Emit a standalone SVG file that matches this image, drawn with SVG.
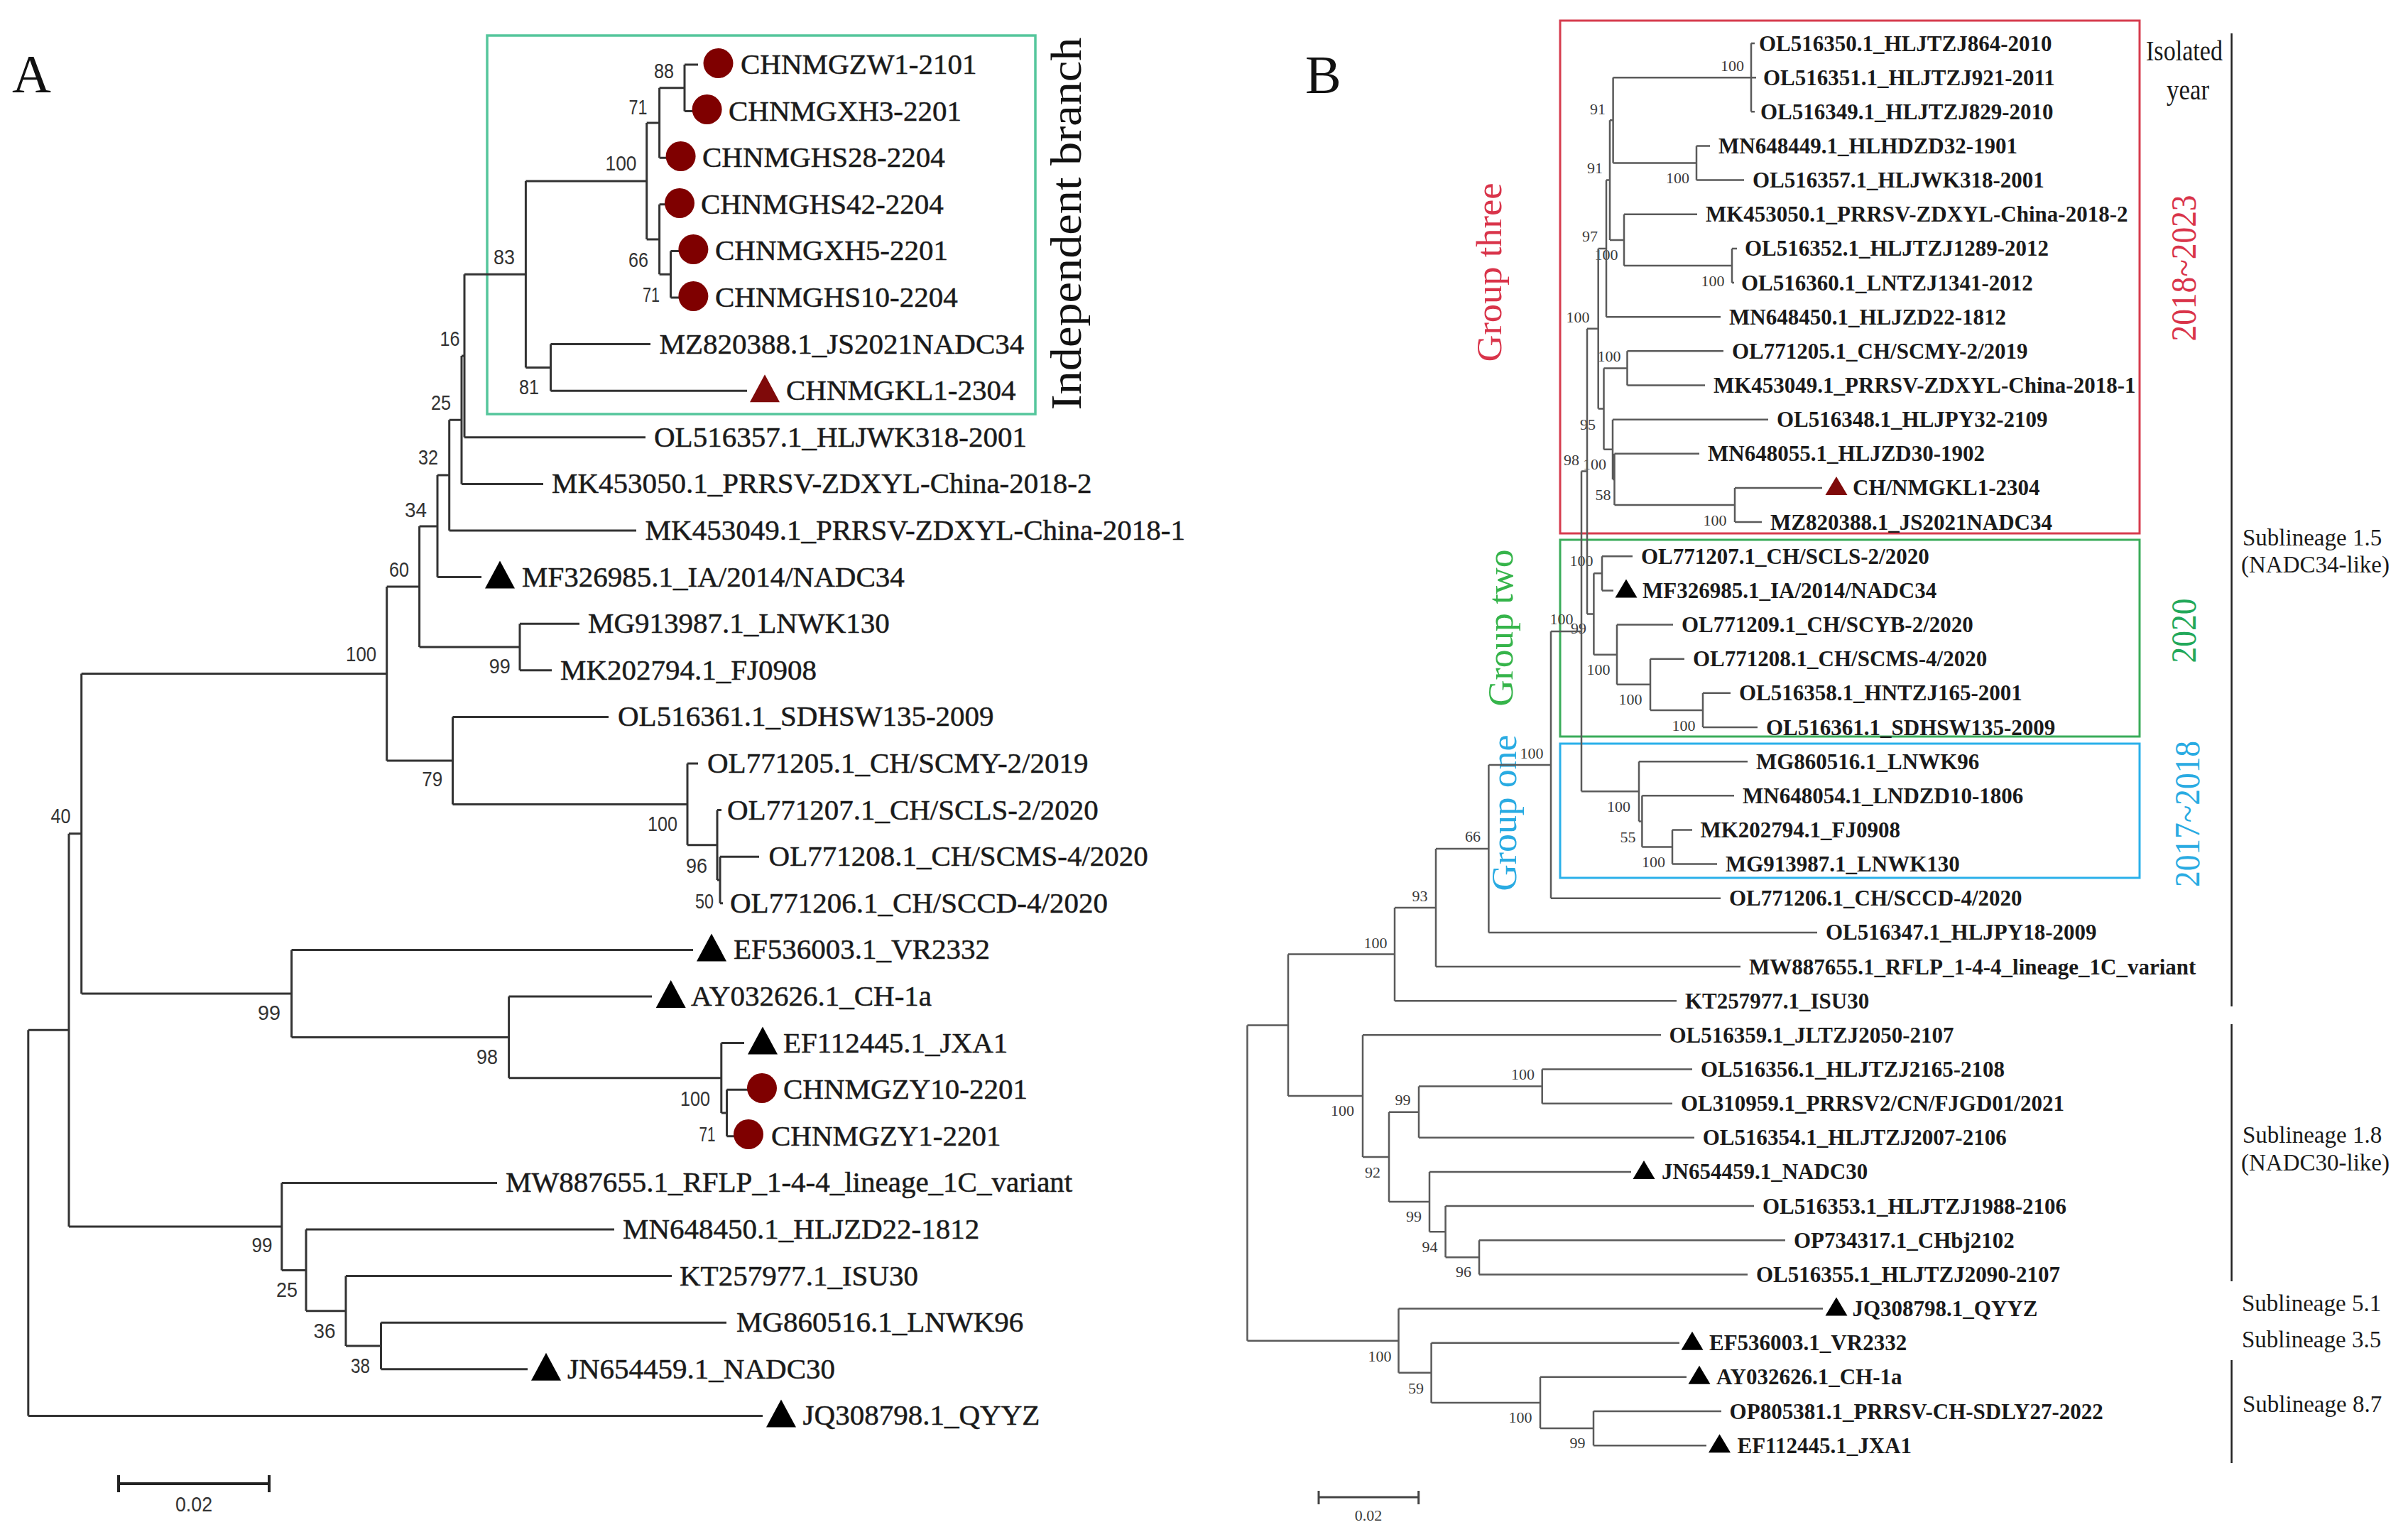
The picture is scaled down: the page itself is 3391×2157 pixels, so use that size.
<svg xmlns="http://www.w3.org/2000/svg" xmlns:xlink="http://www.w3.org/1999/xlink" width="3391" height="2157" viewBox="0 0 3391 2157">
<style>
.bg{fill:#ffffff}
.ta{font-family:"Liberation Serif","Times New Roman",serif;font-size:41px;fill:#1a1a1a;stroke:#1a1a1a;stroke-width:0.5}
.tb{font-family:"Liberation Serif","Times New Roman",serif;font-size:31px;font-weight:bold;fill:#1a1a1a}
.sa{font-family:"Liberation Sans",Arial,sans-serif;font-size:30px;fill:#333333;text-anchor:middle}
.sb{font-family:"Liberation Serif","Times New Roman",serif;font-size:22px;fill:#3a3a3a;text-anchor:middle}
.ea{fill:none;stroke:#333333;stroke-width:3}
.eb{fill:none;stroke:#5a5a5a;stroke-width:2.5}
.panel{font-family:"Liberation Serif","Times New Roman",serif;font-size:76px;fill:#111111}
.rot{font-family:"Liberation Serif","Times New Roman",serif;text-anchor:middle}
.lab{font-family:"Liberation Serif","Times New Roman",serif;font-size:33px;fill:#1a1a1a}
.dot{fill:#7f0000}
.blk{fill:#000000}
.red{fill:#7f0a0a}
.bar{stroke:#222222;stroke-width:2.5;fill:none}
</style>
<defs>
<path id="triA" d="M0,-23 L21,16 L-21,16 Z"/>
<path id="triB" d="M0,-16 L15.5,10 L-15.5,10 Z"/>
</defs>
<rect class="bg" x="0" y="0" width="3391" height="2157"/>

<!-- ================= PANEL A ================= -->
<text class="panel" x="17" y="130">A</text>
<g id="a-box-independent">
<rect x="686" y="50" width="772" height="533" fill="none" stroke="#55c69c" stroke-width="3.5"/>
<text class="rot" font-size="62" fill="#111111" textLength="525" lengthAdjust="spacingAndGlyphs" transform="translate(1522,315) rotate(-90)">Independent branch</text>
</g>

<g id="a-support">
<text class="sa" x="935" y="110" textLength="28" lengthAdjust="spacingAndGlyphs">88</text>
<text class="sa" x="898.5" y="161" textLength="26" lengthAdjust="spacingAndGlyphs">71</text>
<text class="sa" x="874.5" y="240" textLength="44" lengthAdjust="spacingAndGlyphs">100</text>
<text class="sa" x="899" y="376" textLength="28" lengthAdjust="spacingAndGlyphs">66</text>
<text class="sa" x="917" y="425" textLength="24" lengthAdjust="spacingAndGlyphs">71</text>
<text class="sa" x="710" y="372" textLength="30" lengthAdjust="spacingAndGlyphs">83</text>
<text class="sa" x="745" y="555" textLength="28" lengthAdjust="spacingAndGlyphs">81</text>
<text class="sa" x="633.5" y="487" textLength="28" lengthAdjust="spacingAndGlyphs">16</text>
<text class="sa" x="621" y="577" textLength="28" lengthAdjust="spacingAndGlyphs">25</text>
<text class="sa" x="603" y="654" textLength="28" lengthAdjust="spacingAndGlyphs">32</text>
<text class="sa" x="585.6" y="728" textLength="31" lengthAdjust="spacingAndGlyphs">34</text>
<text class="sa" x="562" y="812" textLength="28" lengthAdjust="spacingAndGlyphs">60</text>
<text class="sa" x="703.8" y="948" textLength="30" lengthAdjust="spacingAndGlyphs">99</text>
<text class="sa" x="508.6" y="931" textLength="43" lengthAdjust="spacingAndGlyphs">100</text>
<text class="sa" x="608.7" y="1107" textLength="29" lengthAdjust="spacingAndGlyphs">79</text>
<text class="sa" x="85.4" y="1159" textLength="28" lengthAdjust="spacingAndGlyphs">40</text>
<text class="sa" x="933" y="1170" textLength="42" lengthAdjust="spacingAndGlyphs">100</text>
<text class="sa" x="981" y="1229" textLength="30" lengthAdjust="spacingAndGlyphs">96</text>
<text class="sa" x="992" y="1279" textLength="26" lengthAdjust="spacingAndGlyphs">50</text>
<text class="sa" x="379" y="1436" textLength="32" lengthAdjust="spacingAndGlyphs">99</text>
<text class="sa" x="686" y="1498" textLength="30" lengthAdjust="spacingAndGlyphs">98</text>
<text class="sa" x="979" y="1557" textLength="42" lengthAdjust="spacingAndGlyphs">100</text>
<text class="sa" x="996" y="1607" textLength="23" lengthAdjust="spacingAndGlyphs">71</text>
<text class="sa" x="369" y="1763" textLength="29" lengthAdjust="spacingAndGlyphs">99</text>
<text class="sa" x="404" y="1826" textLength="30" lengthAdjust="spacingAndGlyphs">25</text>
<text class="sa" x="457" y="1884" textLength="31" lengthAdjust="spacingAndGlyphs">36</text>
<text class="sa" x="507.5" y="1933" textLength="27" lengthAdjust="spacingAndGlyphs">38</text>
</g>

<g id="a-connectors">
<path class="ea" d="M964,91V156.6 M964,91H983 M964,156.6H976
M928.6,123.8V222.2 M928.6,123.8H964 M928.6,222.2H939
M944.5,353.4V419 M944.5,353.4H957 M944.5,419H957
M928.6,287.8V386.2 M928.6,287.8H937 M928.6,386.2H944.5
M910.7,173V337 M910.7,173H928.6 M910.7,337H928.6
M775.5,484.6V550.2 M775.5,484.6H916 M775.5,550.2H1052
M740.4,255V517.4 M740.4,255H910.7 M740.4,517.4H775.5
M654,386.2V615.8 M654,386.2H740.4 M654,615.8H909
M650,501V681.4 M650,501H654 M650,681.4H765
M632.7,591.2V747 M632.7,591.2H650 M632.7,747H896
M616,669.1V812.6 M616,669.1H632.7 M616,812.6H678
M732,878.2V943.8 M732,878.2H816 M732,943.8H777
M590.6,740.9V911 M590.6,740.9H616 M590.6,911H732
M1014,1206.2V1271.8 M1014,1206.2H1069 M1014,1271.8H1018
M1010,1140.6V1239 M1010,1140.6H1016 M1010,1239H1014
M968,1075V1189.8 M968,1075H983 M968,1189.8H1010
M637.5,1009.4V1132.4 M637.5,1009.4H857 M637.5,1132.4H968
M544.7,826V1070.9 M544.7,826H590.6 M544.7,1070.9H637.5
M1023.5,1534.2V1599.8 M1023.5,1534.2H1053 M1023.5,1599.8H1034
M1015.8,1468.6V1567 M1015.8,1468.6H1048 M1015.8,1567H1023.5
M716.6,1403V1517.8 M716.6,1403H918 M716.6,1517.8H1015.8
M410.6,1337.4V1460.4 M410.6,1337.4H976 M410.6,1460.4H716.6
M114.7,948.5V1398.9 M114.7,948.5H544.7 M114.7,1398.9H410.6
M536.5,1862.2V1927.8 M536.5,1862.2H1023 M536.5,1927.8H743
M487,1796.6V1895 M487,1796.6H946 M487,1895H536.5
M431,1731V1845.8 M431,1731H865 M431,1845.8H487
M396.8,1665.4V1788.4 M396.8,1665.4H700 M396.8,1788.4H431
M97,1173.7V1726.9 M97,1173.7H114.7 M97,1726.9H396.8
M39.8,1450.3V1993.4 M39.8,1450.3H97 M39.8,1993.4H1074"/>
</g>

<g id="a-leaves">
<g id="a-chnmgzw1"><circle class="dot" cx="1011.5" cy="89" r="21"/><text class="ta" x="1043" y="104">CHNMGZW1-2101</text></g>
<g id="a-chnmgxh3"><circle class="dot" cx="995.6" cy="154" r="21"/><text class="ta" x="1026" y="170">CHNMGXH3-2201</text></g>
<g id="a-chnmghs28"><circle class="dot" cx="958.6" cy="220" r="21"/><text class="ta" x="989" y="235">CHNMGHS28-2204</text></g>
<g id="a-chnmghs42"><circle class="dot" cx="957" cy="286" r="21"/><text class="ta" x="987" y="301">CHNMGHS42-2204</text></g>
<g id="a-chnmgxh5"><circle class="dot" cx="976.4" cy="351" r="21"/><text class="ta" x="1007" y="366">CHNMGXH5-2201</text></g>
<g id="a-chnmghs10"><circle class="dot" cx="976.4" cy="417" r="21"/><text class="ta" x="1007" y="432">CHNMGHS10-2204</text></g>
<g id="a-mz820388"><text class="ta" x="928.6" y="498">MZ820388.1_JS2021NADC34</text></g>
<g id="a-chnmgkl1"><use xlink:href="#triA" href="#triA" class="red" x="1077" y="550.2"/><text class="ta" x="1107" y="563">CHNMGKL1-2304</text></g>
<g id="a-ol516357"><text class="ta" x="921" y="629">OL516357.1_HLJWK318-2001</text></g>
<g id="a-mk453050"><text class="ta" x="777" y="694">MK453050.1_PRRSV-ZDXYL-China-2018-2</text></g>
<g id="a-mk453049"><text class="ta" x="908.6" y="760">MK453049.1_PRRSV-ZDXYL-China-2018-1</text></g>
<g id="a-mf326985"><use xlink:href="#triA" href="#triA" class="blk" x="704" y="812.6"/><text class="ta" x="735" y="826">MF326985.1_IA/2014/NADC34</text></g>
<g id="a-mg913987"><text class="ta" x="828" y="891">MG913987.1_LNWK130</text></g>
<g id="a-mk202794"><text class="ta" x="789" y="957">MK202794.1_FJ0908</text></g>
<g id="a-ol516361"><text class="ta" x="870" y="1022">OL516361.1_SDHSW135-2009</text></g>
<g id="a-ol771205"><text class="ta" x="996" y="1088">OL771205.1_CH/SCMY-2/2019</text></g>
<g id="a-ol771207"><text class="ta" x="1024" y="1154">OL771207.1_CH/SCLS-2/2020</text></g>
<g id="a-ol771208"><text class="ta" x="1082.6" y="1219">OL771208.1_CH/SCMS-4/2020</text></g>
<g id="a-ol771206"><text class="ta" x="1028" y="1285">OL771206.1_CH/SCCD-4/2020</text></g>
<g id="a-ef536003"><use xlink:href="#triA" href="#triA" class="blk" x="1002" y="1337.4"/><text class="ta" x="1033" y="1350">EF536003.1_VR2332</text></g>
<g id="a-ay032626"><use xlink:href="#triA" href="#triA" class="blk" x="944.7" y="1403"/><text class="ta" x="973" y="1416">AY032626.1_CH-1a</text></g>
<g id="a-ef112445"><use xlink:href="#triA" href="#triA" class="blk" x="1074" y="1468.6"/><text class="ta" x="1103" y="1482">EF112445.1_JXA1</text></g>
<g id="a-chnmgzy10"><circle class="dot" cx="1073" cy="1532" r="21"/><text class="ta" x="1103" y="1547">CHNMGZY10-2201</text></g>
<g id="a-chnmgzy1"><circle class="dot" cx="1054" cy="1597" r="21"/><text class="ta" x="1086" y="1613">CHNMGZY1-2201</text></g>
<g id="a-mw887655"><text class="ta" x="712" y="1678">MW887655.1_RFLP_1-4-4_lineage_1C_variant</text></g>
<g id="a-mn648450"><text class="ta" x="877" y="1744">MN648450.1_HLJZD22-1812</text></g>
<g id="a-kt257977"><text class="ta" x="957" y="1810">KT257977.1_ISU30</text></g>
<g id="a-mg860516"><text class="ta" x="1037" y="1875">MG860516.1_LNWK96</text></g>
<g id="a-jn654459"><use xlink:href="#triA" href="#triA" class="blk" x="769" y="1927.8"/><text class="ta" x="799" y="1941">JN654459.1_NADC30</text></g>
<g id="a-jq308798"><use xlink:href="#triA" href="#triA" class="blk" x="1100" y="1993.4"/><text class="ta" x="1130.6" y="2006">JQ308798.1_QYYZ</text></g>
</g>

<g id="a-scale">
<path d="M167,2089H379 M167,2077V2101 M379,2077V2101" fill="none" stroke="#222222" stroke-width="4"/>
<text class="sa" x="273" y="2128" textLength="52" lengthAdjust="spacingAndGlyphs">0.02</text>
</g>

<!-- ================= PANEL B ================= -->
<text class="panel" x="1838" y="131">B</text>
<g id="b-boxes">
<g id="b-group-three"><rect x="2197" y="29" width="816" height="722" fill="none" stroke="#d63c4e" stroke-width="3"/>
<text class="rot" font-size="50" fill="#d9344a" textLength="252" lengthAdjust="spacingAndGlyphs" transform="translate(2114,383.5) rotate(-90)">Group three</text>
<text class="rot" font-size="50" fill="#d9344a" textLength="206" lengthAdjust="spacingAndGlyphs" transform="translate(3092,377.5) rotate(-90)">2018~2023</text></g>
<g id="b-group-two"><rect x="2197" y="760" width="816" height="277" fill="none" stroke="#3aac5a" stroke-width="3"/>
<text class="rot" font-size="50" fill="#35b44a" textLength="221" lengthAdjust="spacingAndGlyphs" transform="translate(2130,884) rotate(-90)">Group two</text>
<text class="rot" font-size="50" fill="#22a85a" textLength="91" lengthAdjust="spacingAndGlyphs" transform="translate(3092,888) rotate(-90)">2020</text></g>
<g id="b-group-one"><rect x="2197" y="1047" width="816" height="189" fill="none" stroke="#2ab0ea" stroke-width="3"/>
<text class="rot" font-size="50" fill="#29abe2" textLength="220" lengthAdjust="spacingAndGlyphs" transform="translate(2135,1144.6) rotate(-90)">Group one</text>
<text class="rot" font-size="50" fill="#29abe2" textLength="206" lengthAdjust="spacingAndGlyphs" transform="translate(3097,1146) rotate(-90)">2017~2018</text></g>
</g>

<g id="b-support">
<text class="sb" x="2439.5" y="100">100</text>
<text class="sb" x="2250" y="160.5">91</text>
<text class="sb" x="2246" y="243.5">91</text>
<text class="sb" x="2362.6" y="258">100</text>
<text class="sb" x="2239" y="339.5">97</text>
<text class="sb" x="2262" y="366">100</text>
<text class="sb" x="2412" y="402.5">100</text>
<text class="sb" x="2222" y="453.5">100</text>
<text class="sb" x="2266" y="509">100</text>
<text class="sb" x="2236" y="604.5">95</text>
<text class="sb" x="2213" y="654.5">98</text>
<text class="sb" x="2245.6" y="660.5">100</text>
<text class="sb" x="2257.5" y="703.5">58</text>
<text class="sb" x="2415" y="739.5">100</text>
<text class="sb" x="2227" y="797">100</text>
<text class="sb" x="2199" y="879">100</text>
<text class="sb" x="2223" y="891.5">99</text>
<text class="sb" x="2251" y="950">100</text>
<text class="sb" x="2296" y="992">100</text>
<text class="sb" x="2371" y="1029">100</text>
<text class="sb" x="2157" y="1067.5">100</text>
<text class="sb" x="2279.5" y="1142.5">100</text>
<text class="sb" x="2292.5" y="1185.5">55</text>
<text class="sb" x="2328.6" y="1220.5">100</text>
<text class="sb" x="2074" y="1185">66</text>
<text class="sb" x="1999.6" y="1269">93</text>
<text class="sb" x="1937" y="1334.5">100</text>
<text class="sb" x="2144.4" y="1520">100</text>
<text class="sb" x="1975.6" y="1556">99</text>
<text class="sb" x="1890.5" y="1570.5">100</text>
<text class="sb" x="1933" y="1657.5">92</text>
<text class="sb" x="1991" y="1720">99</text>
<text class="sb" x="2013.5" y="1762.5">94</text>
<text class="sb" x="2061" y="1797.5">96</text>
<text class="sb" x="1943" y="1916.5">100</text>
<text class="sb" x="1994" y="1961.5">59</text>
<text class="sb" x="2141" y="2003">100</text>
<text class="sb" x="2221.5" y="2038.5">99</text>
</g>

<g id="b-connectors">
<path class="eb" d="M2466,61V157.3 M2466,61H2471 M2466,157.3H2471
M2389,205.45V253.6 M2389,205.45H2408 M2389,253.6H2456
M2271.6,109.15V229.5 M2271.6,109.15H2473 M2271.6,229.5H2389
M2439,349.9V398.05 M2439,349.9H2446 M2439,398.05H2442
M2287,301.75V374 M2287,301.75H2390 M2287,374H2439
M2267,169.3V337.9 M2267,169.3H2271.6 M2267,337.9H2287
M2262,253.6V446.2 M2262,253.6H2267 M2262,446.2H2423
M2291.5,494.35V542.5 M2291.5,494.35H2427 M2291.5,542.5H2401
M2443,686.95V735.1 M2443,686.95H2566 M2443,735.1H2481
M2273.5,638.8V711 M2273.5,638.8H2393 M2273.5,711H2443
M2271,590.65V674.9 M2271,590.65H2490 M2271,674.9H2273.5
M2258.5,518.4V632.8 M2258.5,518.4H2291.5 M2258.5,632.8H2271
M2250.7,349.9V575.6 M2250.7,349.9H2262 M2250.7,575.6H2258.5
M2256,783.25V831.4 M2256,783.25H2299 M2256,831.4H2272
M2398,975.85V1024 M2398,975.85H2437 M2398,1024H2475
M2324,927.7V999.9 M2324,927.7H2372 M2324,999.9H2398
M2277,879.55V963.8 M2277,879.55H2356 M2277,963.8H2324
M2244.4,807.3V921.7 M2244.4,807.3H2256 M2244.4,921.7H2277
M2235,462.75V864.5 M2235,462.75H2250.7 M2235,864.5H2244.4
M2355,1168.45V1216.6 M2355,1168.45H2383 M2355,1216.6H2418
M2312.4,1120.3V1192.5 M2312.4,1120.3H2442 M2312.4,1192.5H2355
M2308,1072.15V1156.4 M2308,1072.15H2461 M2308,1156.4H2312.4
M2227,663.6V1114.3 M2227,663.6H2235 M2227,1114.3H2308
M2184,889V1264.75 M2184,889H2227 M2184,1264.75H2423
M2096.4,1076.9V1312.9 M2096.4,1076.9H2184 M2096.4,1312.9H2559
M2022,1194.9V1361.05 M2022,1194.9H2096.4 M2022,1361.05H2451
M1964,1278V1409.2 M1964,1278H2022 M1964,1409.2H2361
M2083,1746.25V1794.4 M2083,1746.25H2514 M2083,1794.4H2461
M2035.6,1698.1V1770.3 M2035.6,1698.1H2470 M2035.6,1770.3H2083
M2013,1649.95V1734.2 M2013,1649.95H2297 M2013,1734.2H2035.6
M2171.7,1505.5V1553.65 M2171.7,1505.5H2383 M2171.7,1553.65H2355
M1998,1529.6V1601.8 M1998,1529.6H2171.7 M1998,1601.8H2386
M1956,1565.7V1692.1 M1956,1565.7H1998 M1956,1692.1H2013
M1919,1457.35V1628.9 M1919,1457.35H2339 M1919,1628.9H1956
M1814,1343.6V1543.1 M1814,1343.6H1964 M1814,1543.1H1919
M2244,1987V2035.15 M2244,1987H2424 M2244,2035.15H2403
M2169,1938.85V2011.1 M2169,1938.85H2375 M2169,2011.1H2244
M2015.6,1890.7V1975 M2015.6,1890.7H2365 M2015.6,1975H2169
M1969.5,1842.55V1932.8 M1969.5,1842.55H2567 M1969.5,1932.8H2015.6
M1756.5,1443.4V1887.7 M1756.5,1443.4H1814 M1756.5,1887.7H1969.5"/>
</g>

<g id="b-leaves">
<g id="b-ol516350"><text class="tb" x="2477" y="71.5">OL516350.1_HLJTZJ864-2010</text></g>
<g id="b-ol516351"><text class="tb" x="2483" y="119.6">OL516351.1_HLJTZJ921-2011</text></g>
<g id="b-ol516349"><text class="tb" x="2479" y="167.8">OL516349.1_HLJTZJ829-2010</text></g>
<g id="b-mn648449"><text class="tb" x="2420" y="216">MN648449.1_HLHDZD32-1901</text></g>
<g id="b-ol516357"><text class="tb" x="2468" y="264.1">OL516357.1_HLJWK318-2001</text></g>
<g id="b-mk453050"><text class="tb" x="2402" y="312.2">MK453050.1_PRRSV-ZDXYL-China-2018-2</text></g>
<g id="b-ol516352"><text class="tb" x="2457" y="360.4">OL516352.1_HLJTZJ1289-2012</text></g>
<g id="b-ol516360"><text class="tb" x="2452" y="408.5">OL516360.1_LNTZJ1341-2012</text></g>
<g id="b-mn648450"><text class="tb" x="2435" y="456.7">MN648450.1_HLJZD22-1812</text></g>
<g id="b-ol771205"><text class="tb" x="2439" y="504.8">OL771205.1_CH/SCMY-2/2019</text></g>
<g id="b-mk453049"><text class="tb" x="2413" y="553">MK453049.1_PRRSV-ZDXYL-China-2018-1</text></g>
<g id="b-ol516348"><text class="tb" x="2502" y="601.1">OL516348.1_HLJPY32-2109</text></g>
<g id="b-mn648055"><text class="tb" x="2405" y="649.3">MN648055.1_HLJZD30-1902</text></g>
<g id="b-chnmgkl1"><use xlink:href="#triB" href="#triB" class="red" x="2586" y="686.95"/><text class="tb" x="2609" y="697.4">CH/NMGKL1-2304</text></g>
<g id="b-mz820388"><text class="tb" x="2493" y="745.6">MZ820388.1_JS2021NADC34</text></g>
<g id="b-ol771207"><text class="tb" x="2311" y="793.7">OL771207.1_CH/SCLS-2/2020</text></g>
<g id="b-mf326985"><use xlink:href="#triB" href="#triB" class="blk" x="2290" y="831.4"/><text class="tb" x="2313" y="841.9">MF326985.1_IA/2014/NADC34</text></g>
<g id="b-ol771209"><text class="tb" x="2368" y="890">OL771209.1_CH/SCYB-2/2020</text></g>
<g id="b-ol771208"><text class="tb" x="2384" y="938.2">OL771208.1_CH/SCMS-4/2020</text></g>
<g id="b-ol516358"><text class="tb" x="2449" y="986.3">OL516358.1_HNTZJ165-2001</text></g>
<g id="b-ol516361"><text class="tb" x="2487" y="1034.5">OL516361.1_SDHSW135-2009</text></g>
<g id="b-mg860516"><text class="tb" x="2473" y="1082.6">MG860516.1_LNWK96</text></g>
<g id="b-mn648054"><text class="tb" x="2454" y="1130.8">MN648054.1_LNDZD10-1806</text></g>
<g id="b-mk202794"><text class="tb" x="2394.5" y="1178.9">MK202794.1_FJ0908</text></g>
<g id="b-mg913987"><text class="tb" x="2430" y="1227.1">MG913987.1_LNWK130</text></g>
<g id="b-ol771206"><text class="tb" x="2435" y="1275.2">OL771206.1_CH/SCCD-4/2020</text></g>
<g id="b-ol516347"><text class="tb" x="2571" y="1323.4">OL516347.1_HLJPY18-2009</text></g>
<g id="b-mw887655"><text class="tb" x="2463" y="1371.5">MW887655.1_RFLP_1-4-4_lineage_1C_variant</text></g>
<g id="b-kt257977"><text class="tb" x="2373" y="1419.7">KT257977.1_ISU30</text></g>
<g id="b-ol516359"><text class="tb" x="2350.5" y="1467.8">OL516359.1_JLTZJ2050-2107</text></g>
<g id="b-ol516356"><text class="tb" x="2395" y="1516">OL516356.1_HLJTZJ2165-2108</text></g>
<g id="b-ol310959"><text class="tb" x="2367" y="1564.1">OL310959.1_PRRSV2/CN/FJGD01/2021</text></g>
<g id="b-ol516354"><text class="tb" x="2397.7" y="1612.3">OL516354.1_HLJTZJ2007-2106</text></g>
<g id="b-jn654459"><use xlink:href="#triB" href="#triB" class="blk" x="2315" y="1649.95"/><text class="tb" x="2340" y="1660.4">JN654459.1_NADC30</text></g>
<g id="b-ol516353"><text class="tb" x="2482" y="1708.6">OL516353.1_HLJTZJ1988-2106</text></g>
<g id="b-op734317"><text class="tb" x="2526" y="1756.7">OP734317.1_CHbj2102</text></g>
<g id="b-ol516355"><text class="tb" x="2473" y="1804.9">OL516355.1_HLJTZJ2090-2107</text></g>
<g id="b-jq308798"><use xlink:href="#triB" href="#triB" class="blk" x="2586" y="1842.55"/><text class="tb" x="2608.5" y="1853">JQ308798.1_QYYZ</text></g>
<g id="b-ef536003"><use xlink:href="#triB" href="#triB" class="blk" x="2383" y="1890.7"/><text class="tb" x="2407" y="1901.2">EF536003.1_VR2332</text></g>
<g id="b-ay032626"><use xlink:href="#triB" href="#triB" class="blk" x="2393" y="1938.85"/><text class="tb" x="2417" y="1949.3">AY032626.1_CH-1a</text></g>
<g id="b-op805381"><text class="tb" x="2435.6" y="1997.5">OP805381.1_PRRSV-CH-SDLY27-2022</text></g>
<g id="b-ef112445"><use xlink:href="#triB" href="#triB" class="blk" x="2421.5" y="2035.15"/><text class="tb" x="2446.5" y="2045.6">EF112445.1_JXA1</text></g>
</g>

<g id="b-scale">
<path d="M1857,2108H1997.7 M1857,2099V2118 M1997.7,2099V2118" fill="none" stroke="#444444" stroke-width="3"/>
<text class="sb" x="1927" y="2141" font-size="20">0.02</text>
</g>

<g id="b-annotations">
<text class="rot" font-size="40" fill="#1a1a1a" x="3076" y="85" textLength="108" lengthAdjust="spacingAndGlyphs">Isolated</text>
<text class="rot" font-size="40" fill="#1a1a1a" x="3081" y="140" textLength="60" lengthAdjust="spacingAndGlyphs">year</text>
<path class="bar" d="M3142.6,47V1417 M3142.6,1442V1804 M3142.6,1915V2060"/>
<text class="lab" x="3158" y="768">Sublineage 1.5</text>
<text class="lab" x="3156" y="806">(NADC34-like)</text>
<text class="lab" x="3158" y="1609">Sublineage 1.8</text>
<text class="lab" x="3156" y="1648">(NADC30-like)</text>
<text class="lab" x="3157" y="1846">Sublineage 5.1</text>
<text class="lab" x="3157" y="1897">Sublineage 3.5</text>
<text class="lab" x="3158" y="1988">Sublineage 8.7</text>
</g>
</svg>
